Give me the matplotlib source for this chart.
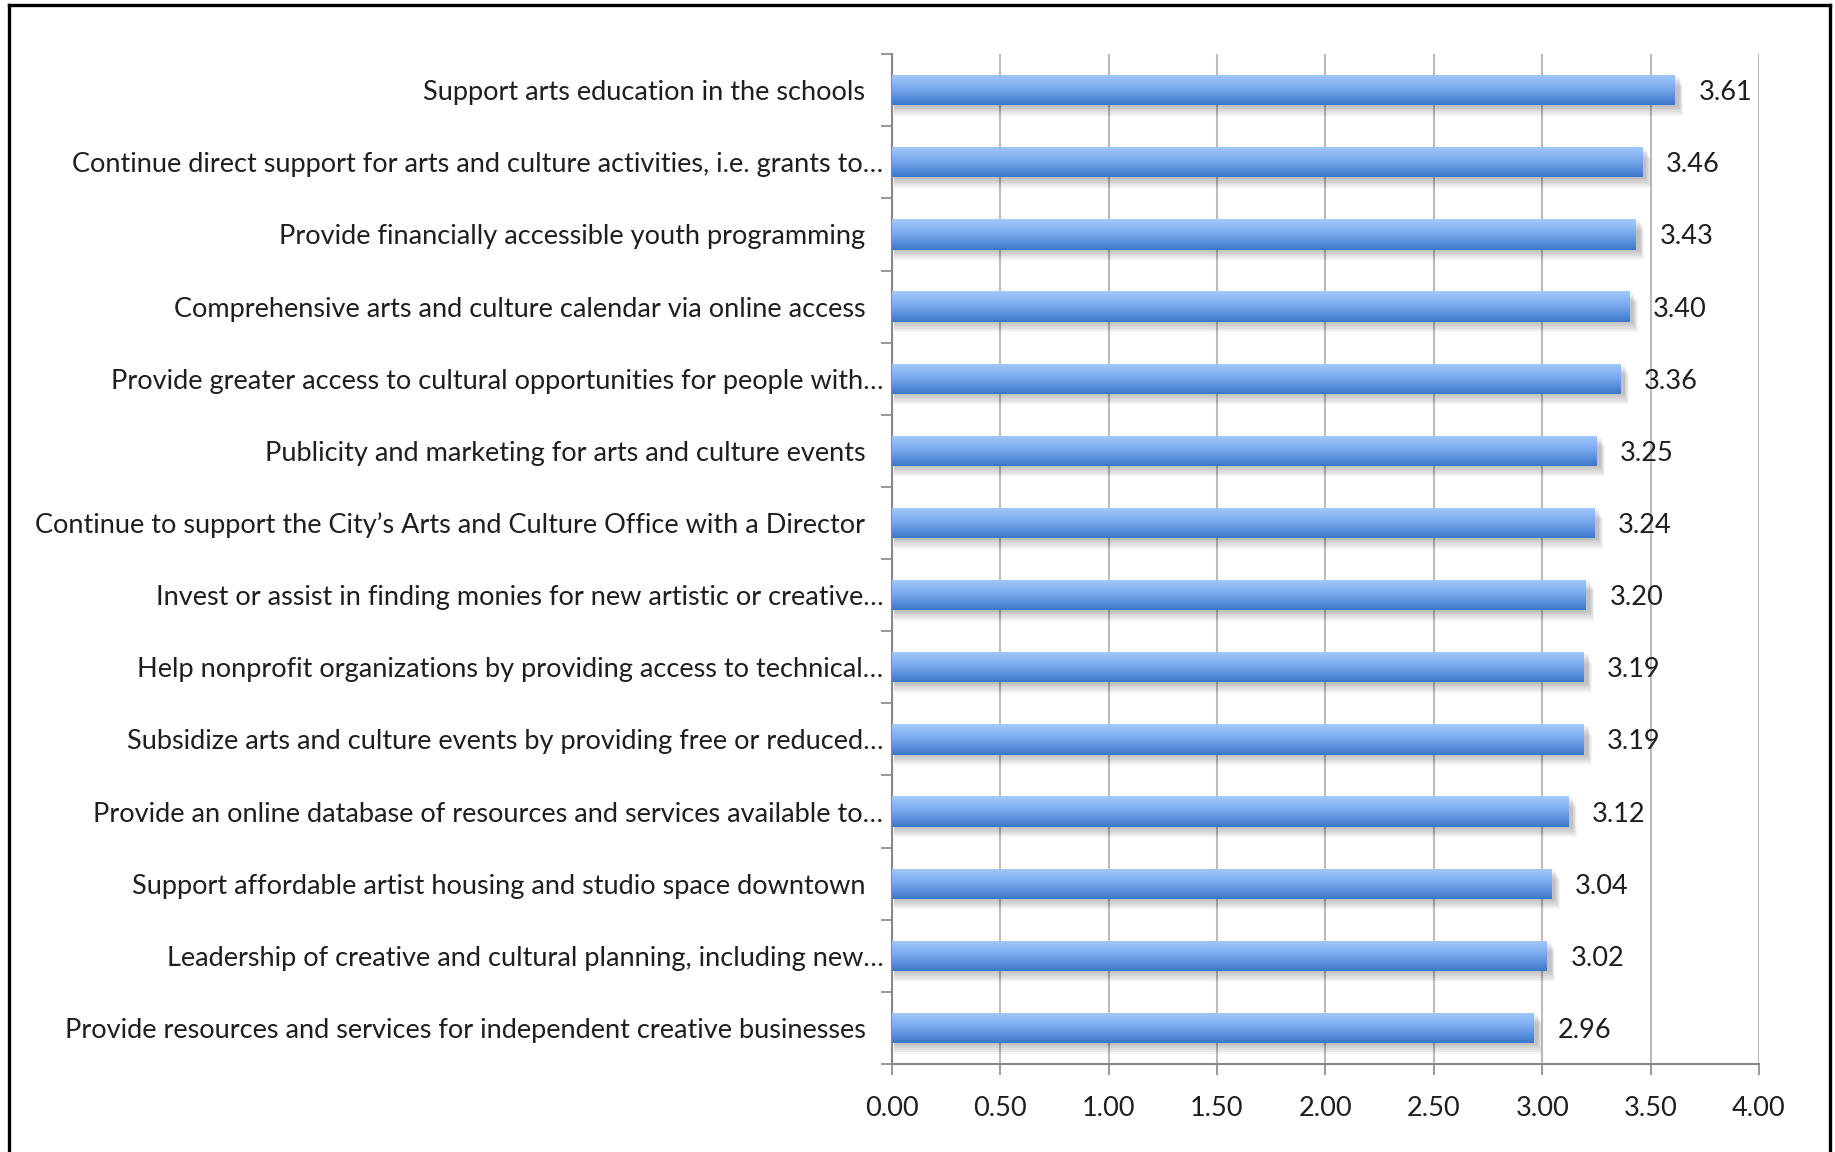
import matplotlib
matplotlib.use("Agg")
import matplotlib.pyplot as plt
import numpy as np
from matplotlib.lines import Line2D
from matplotlib.patches import Rectangle
import matplotlib.transforms as mtransforms

categories = [
    "Support arts education in the schools",
    "Continue direct support for arts and culture activities, i.e. grants to\u2026",
    "Provide financially accessible youth programming",
    "Comprehensive arts and culture calendar via online access",
    "Provide greater access to cultural opportunities for people with\u2026",
    "Publicity and marketing for arts and culture events",
    "Continue to support the City\u2019s Arts and Culture Office with a Director",
    "Invest or assist in finding monies for new artistic or creative\u2026",
    "Help nonprofit organizations by providing access to technical\u2026",
    "Subsidize arts and culture events by providing free or reduced\u2026",
    "Provide an online database of resources and services available to\u2026",
    "Support affordable artist housing and studio space downtown",
    "Leadership of creative and cultural planning, including new\u2026",
    "Provide resources and services for independent creative businesses",
]
values = [3.61, 3.46, 3.43, 3.40, 3.36, 3.25, 3.24, 3.20, 3.19, 3.19, 3.12, 3.04, 3.02, 2.96]
xticks = [0.0, 0.5, 1.0, 1.5, 2.0, 2.5, 3.0, 3.5, 4.0]

plt.rcParams['font.family'] = ['Lato', 'DejaVu Sans']

fig = plt.figure(figsize=(18.35, 11.52), dpi=100)
ax = fig.add_axes([0.486, 0.0764, 0.9586 - 0.486, 0.953 - 0.0764])

# choose font size so the longest unabridged label is ~832 px wide, as in the reference
renderer = fig.canvas.get_renderer()
probe = fig.text(0, 0, categories[6], fontsize=20)
w20 = probe.get_window_extent(renderer).width
probe.remove()
fs = min(20 * 832.0 / w20, 22)

ypos = np.arange(len(categories))
bh = 0.42
bars = ax.barh(ypos, values, height=bh, color='none', edgecolor='none', zorder=3)

top = np.array([0.64, 0.79, 0.99])
mid = np.array([0.46, 0.65, 0.92])
bot = np.array([0.23, 0.47, 0.79])
n = 64
t = np.linspace(0, 1, n)[:, None]
grad = np.where(t < 0.5, top + (mid - top) * (t / 0.5), mid + (bot - mid) * ((t - 0.5) / 0.5))
grad = grad[:, None, :]

txtc = '#1e1e1e'
down = mtransforms.ScaledTranslation(0, -2.5 / 100, fig.dpi_scale_trans)
for b, v, y in zip(bars, values, ypos):
    for k in range(6):
        off = 0.02 + k * 0.025
        ax.add_patch(Rectangle((0.01, y - bh / 2 + off), v + 0.01 + k * 0.004, bh,
                               facecolor='black', alpha=0.045, edgecolor='none', zorder=2))
    im = ax.imshow(grad, extent=[0, v, y + bh / 2, y - bh / 2], origin='upper',
                   aspect='auto', zorder=3, interpolation='bilinear')
    im.set_clip_path(b)
    ax.text(v + 0.11, y, f"{v:.2f}", va='center', ha='left', fontsize=fs, color=txtc,
            transform=ax.transData + down)

ax.set_xlim(0, 4)
ax.set_ylim(len(categories) - 0.5, -0.5)
ax.set_xticks(xticks)
ax.set_xticklabels([f"{x:.2f}" for x in xticks], fontsize=fs, color=txtc)
ax.set_yticks(ypos)
ax.set_yticklabels(categories, fontsize=fs, color=txtc)
ax.tick_params(axis='y', which='major', length=0, pad=6)
ax.set_yticks(np.arange(-0.5, len(categories) + 0.5, 1), minor=True)
ax.tick_params(axis='y', which='minor', length=8, width=1.2, color='#888888', direction='out')
ax.tick_params(axis='x', which='major', length=8, width=1.2, color='#888888', direction='out', pad=15)

shift = mtransforms.ScaledTranslation(-18 / 100, 0, fig.dpi_scale_trans)
for lab in ax.get_yticklabels():
    if not lab.get_text().endswith("\u2026"):
        lab.set_transform(lab.get_transform() + shift)

ax.grid(axis='x', color='#BBBBBB', linewidth=1.5, zorder=0)
ax.set_axisbelow(True)
for s in ['top', 'right']:
    ax.spines[s].set_visible(False)
for s in ['left', 'bottom']:
    ax.spines[s].set_color('#888888')
    ax.spines[s].set_linewidth(1.5)

W, H = 1835, 1152
lw = 2.4
fig.add_artist(Line2D([9 / W, 9 / W], [0, 1 - 5 / H], transform=fig.transFigure, color='black', lw=lw))
fig.add_artist(Line2D([9 / W, 1830 / W], [1 - 5 / H, 1 - 5 / H], transform=fig.transFigure, color='black', lw=lw))
fig.add_artist(Line2D([1830 / W, 1830 / W], [0, 1 - 5 / H], transform=fig.transFigure, color='black', lw=lw))

fig.savefig("out.png", dpi=100)
